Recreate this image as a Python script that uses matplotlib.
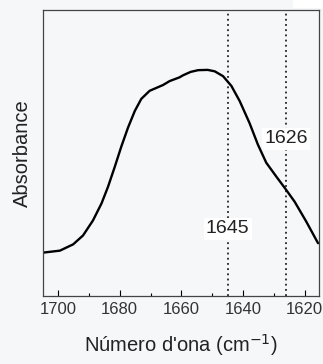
import matplotlib
matplotlib.use('Agg')
import matplotlib.pyplot as plt
from matplotlib.patches import Rectangle

# Spectrum (wavenumber, absorbance a.u.)
wavenumber = [1704.9, 1699.4, 1695.1, 1691.9, 1688.7, 1685.9, 1683.8, 1681.6,
              1679.5, 1677.3, 1675.1, 1673.0, 1670.3, 1666.0, 1663.8, 1660.6,
              1659.5, 1657.0, 1654.6, 1651.5, 1649.2, 1646.5, 1643.8, 1641.1,
              1637.9, 1635.2, 1632.5, 1629.2, 1626.5, 1623.3, 1619.5, 1615.7]
absorbance = [0.153, 0.160, 0.182, 0.213, 0.265, 0.325, 0.383, 0.453,
              0.523, 0.590, 0.648, 0.690, 0.718, 0.738, 0.752, 0.765,
              0.772, 0.784, 0.790, 0.791, 0.786, 0.769, 0.735, 0.682,
              0.605, 0.530, 0.467, 0.418, 0.379, 0.331, 0.261, 0.186]

marker_positions = [1645, 1626]
marker_labels = ['1645', '1626']
marker_label_y = [0.236, 0.55]

xticks = [1700, 1680, 1660, 1640, 1620]

bg = '#f6f7f9'
plt.rcParams['font.family'] = ['Liberation Sans', 'DejaVu Sans']

fig = plt.figure(figsize=(3.23, 3.64), dpi=100, facecolor=bg)
ax = fig.add_axes([0.132, 0.1855, 0.8565, 0.787])
ax.set_facecolor(bg)

# white strip in top right corner
fig.patches.append(Rectangle((0.907, 0.978), 0.093, 0.022, transform=fig.transFigure,
                             facecolor='white', edgecolor='none'))

ax.plot(wavenumber, absorbance, color='black', lw=1.7,
        solid_joinstyle='round', solid_capstyle='round')

for xv, lab, ly in zip(marker_positions, marker_labels, marker_label_y):
    ax.axvline(xv, color='black', lw=1.1, linestyle=(0, (1.2, 2.2)))
    ax.text(xv, ly, lab, ha='center', va='center', fontsize=14, color='#222222',
            bbox=dict(boxstyle='square,pad=0.12', facecolor='white', edgecolor='none'))

ax.set_xlim(1705, 1615.3)
ax.set_ylim(0, 1)
ax.set_xticks(xticks)
ax.set_xticks(range(1700, 1615, -10), minor=True)
ax.set_yticks([])
ax.tick_params(axis='x', which='major', direction='in', length=4, width=0.8,
               labelsize=12, labelcolor='#333333', pad=4)
ax.tick_params(axis='x', which='minor', direction='in', length=2.5, width=0.8)
for s in ax.spines.values():
    s.set_color('#444444')
    s.set_linewidth(0.9)

ax.set_xlabel("Número d'ona (cm$^{-1}$)", fontsize=14.5, color='#222222', labelpad=11)
ax.set_ylabel('Absorbance', fontsize=14.5, color='#222222', labelpad=8)

fig.savefig('out.png', dpi=100, facecolor=bg)
